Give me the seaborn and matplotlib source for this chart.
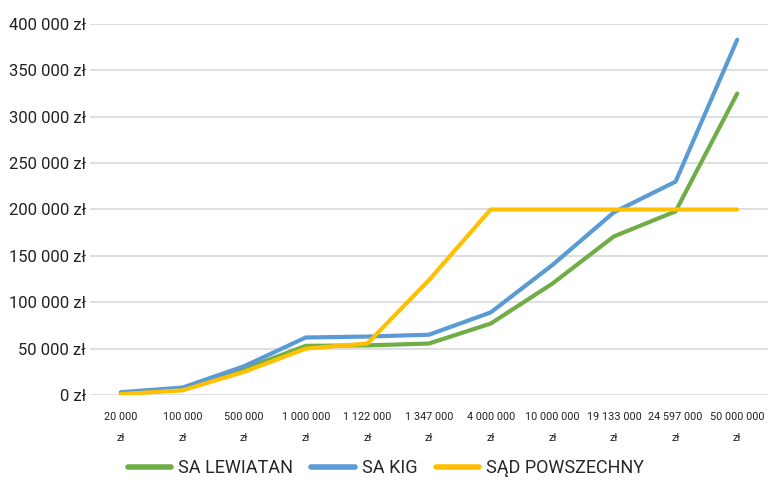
import matplotlib
matplotlib.use("Agg")
import matplotlib.pyplot as plt
import matplotlib.ticker as mticker
import seaborn as sns
import pandas as pd

# wartości sporu (kategorie osi X)
categories = ["20 000\nzł", "100 000\nzł", "500 000\nzł", "1 000 000\nzł", "1 122 000\nzł",
              "1 347 000\nzł", "4 000 000\nzł", "10 000 000\nzł", "19 133 000\nzł",
              "24 597 000\nzł", "50 000 000\nzł"]

sa_lewiatan = [1500, 6000, 28000, 53000, 53500, 55500, 77000, 120000, 171000, 198000, 325000]
sa_kig = [3000, 8000, 31000, 62000, 63000, 65000, 89000, 140000, 197000, 230000, 383000]
sad_powszechny = [1000, 5000, 25000, 50000, 55500, 124000, 200000, 200000, 200000, 200000, 200000]

series_names = ["SA LEWIATAN", "SA KIG", "SĄD POWSZECHNY"]
colors = ["#70AD47", "#5B9BD5", "#FFC000"]

rows = []
for name, vals in zip(series_names, [sa_lewiatan, sa_kig, sad_powszechny]):
    for i, v in enumerate(vals):
        rows.append({"pos": i, "Seria": name, "Koszt": v})
df = pd.DataFrame(rows)

sns.set_style("white")
plt.rcParams["font.family"] = ["Roboto", "DejaVu Sans"]

fig = plt.figure(figsize=(7.72, 4.82), dpi=100)
ax = fig.add_axes([90 / 772, 1 - 395 / 482, (768 - 90) / 772, (395 - 24) / 482])

sns.lineplot(data=df, x="pos", y="Koszt", hue="Seria", hue_order=series_names,
             palette=colors, linewidth=3, ax=ax, legend=False)

ax.set_xlim(-0.5, len(categories) - 0.5)
ax.set_ylim(0, 400000)
ax.set_yticks(range(0, 400001, 50000))
ax.yaxis.set_major_formatter(mticker.FuncFormatter(
    lambda v, p: f"{int(v):,} zł".replace(",", " ")))
ax.set_xticks(range(len(categories)))
ax.set_xticklabels(categories, fontsize=7.8, color="#222222", linespacing=2.4)
ax.tick_params(axis="y", labelsize=12, colors="#222222", length=0, pad=3)
ax.tick_params(axis="x", length=0, pad=12)
ax.grid(axis="y", color="#d9d9d9", linewidth=1.2)
ax.set_axisbelow(True)
for s in ax.spines.values():
    s.set_visible(False)
ax.set_xlabel("")
ax.set_ylabel("")

handles = [plt.Line2D([0], [0], color=c, lw=4) for c in colors]
fig.legend(handles, series_names, loc="center", bbox_to_anchor=(0.5, 1 - 468 / 482),
           ncol=3, frameon=False, fontsize=13, handlelength=2.4, columnspacing=1.0,
           handletextpad=0.4)

fig.savefig("out.png", dpi=100)
